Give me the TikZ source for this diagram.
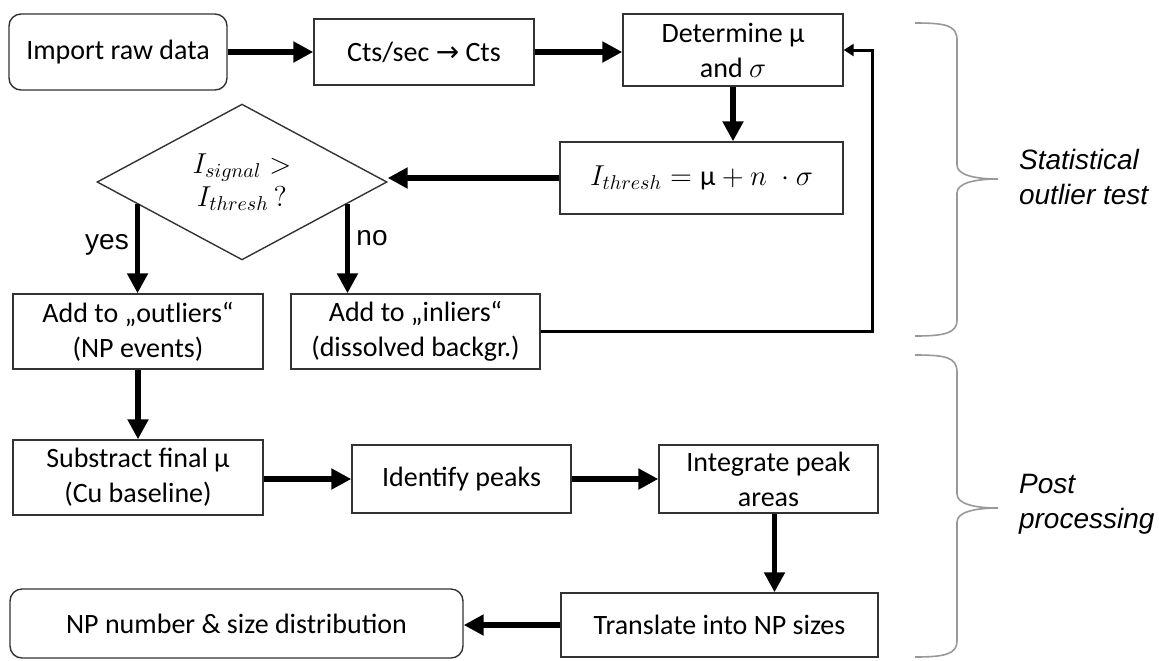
\documentclass[tikz,border=0pt]{standalone}
\usepackage{fontspec}
\setmainfont{Carlito}
\newfontfamily\arialfont{Liberation Sans}
\newfontfamily\symfont{DejaVu Sans}
\usetikzlibrary{arrows.meta,shapes.geometric,calc}

\tikzset{
  box/.style={draw=black!80, line width=0.7pt, align=center, inner sep=2pt,
    font=\fontsize{14}{17.5}\selectfont},
  rbox/.style={box, rounded corners=6pt},
  test/.style={draw=black!80, line width=0.7pt, shape=diamond, inner sep=0pt,
    align=center, font=\fontsize{14}{16.5}\selectfont},
  arr/.style={line width=2.6pt, -{Triangle[length=10pt,width=10pt]}},
  fb/.style={line width=1.5pt, -{Triangle[length=5pt,width=6pt]}},
  brace/.style={draw=black!40, line width=0.8pt},
  lbl/.style={font=\arialfont\fontsize{14}{17.5}\selectfont, align=left},
}

\begin{document}
\begin{tikzpicture}[x=0.5pt,y=-0.5pt]
        \useasboundingbox (0,0) rectangle (1159,660);

        % statistical outlier test
        \node[rbox, minimum width=109pt, minimum height=38pt] (imp) at (118,52) {Import raw data};
        \node[box, minimum width=110pt, minimum height=33pt] (cts) at (424,52) {Cts/sec {\symfont →} Cts};
        \node[box, minimum width=110pt, minimum height=36pt] (det) at (733,50) {Determine μ\\and $\sigma$};
        \node[box, minimum width=141.5pt, minimum height=36pt] (thr) at (701.5,178) {$I_{thresh} = \mbox{μ} + n\;\cdot\sigma$};
        \node[test, minimum width=145pt, minimum height=59pt] (dia) at (242,182) {$I_{signal}>$\\$I_{thresh}\,?$};
        \node[box, minimum width=125pt, minimum height=37.5pt] (out) at (138,331.5) {Add to „outliers“\\(NP events)};
        \node[box, minimum width=124.5pt, minimum height=37.5pt] (inl) at (415.5,331.5) {Add to „inliers“\\(dissolved backgr.)};

        % post processing
        \node[box, minimum width=125pt, minimum height=37.5pt] (sub) at (138,477.5) {Substract final μ\\(Cu baseline)};
        \node[box, minimum width=109.5pt, minimum height=34pt] (idp) at (461.5,479) {Identify peaks};
        \node[box, minimum width=109.5pt, minimum height=34pt] (itg) at (768.5,479) {Integrate peak\\areas};
        \node[box, minimum width=158.5pt, minimum height=32pt] (trn) at (719.5,625) {Translate into NP sizes};
        \node[rbox, minimum width=226.5pt, minimum height=34.5pt] (np) at (236.5,623.5) {NP number \& size distribution};

        \coordinate (ys) at ($(dia.west)!0.283!(dia.south)$);
        \coordinate (ns) at ($(dia.east)!0.276!(dia.south)$);

        \draw[arr] (imp.east) -- (cts.west);
        \draw[arr] (cts.east) -- (cts.east -| det.west);
        \draw[arr] (det.south) -- (det.south |- thr.north);
        \draw[arr] (thr.west) -- (thr.west -| dia.east);
        \draw[arr] (ys) -- (ys |- out.north);
        \draw[arr] (ns) -- (ns |- inl.north);
        \draw[arr] (out.south) -- (sub.north);
        \draw[arr] (sub.east |- idp.west) -- (idp.west);
        \draw[arr] (idp.east) -- (itg.west);
        \draw[arr] ([xshift=3pt]itg.south) -- ([xshift=3pt]itg.south |- trn.north);
        \draw[arr] (trn.west) -- (trn.west -| np.east);
        \draw[fb] (inl.east) -- ++(332,0) |- (det.east);

        \node[lbl] (yes) at (107,245) {yes};
        \node[lbl] (no) at (372,238) {no};

        % braces
        \draw[brace] (915,23) .. controls (945,23) and (957,25) .. (957,40) -- (957,165)
            .. controls (957,175) and (975,179) .. (998,179)
            .. controls (975,179) and (957,183) .. (957,193) -- (957,320)
            .. controls (957,333) and (945,336) .. (915,336);
        \draw[brace] (915,355) .. controls (945,355) and (957,357) .. (957,372) -- (957,494)
            .. controls (957,504) and (975,508) .. (998,508)
            .. controls (975,508) and (957,512) .. (957,522) -- (957,641)
            .. controls (957,654) and (945,657) .. (915,657);

        \node[lbl, anchor=west] (stat) at (1012,177) {\itshape Statistical\\\itshape outlier test};
        \node[lbl, anchor=west] (post) at (1012,504) {\itshape Post\\\itshape processing};
    \end{tikzpicture}
\end{document}
